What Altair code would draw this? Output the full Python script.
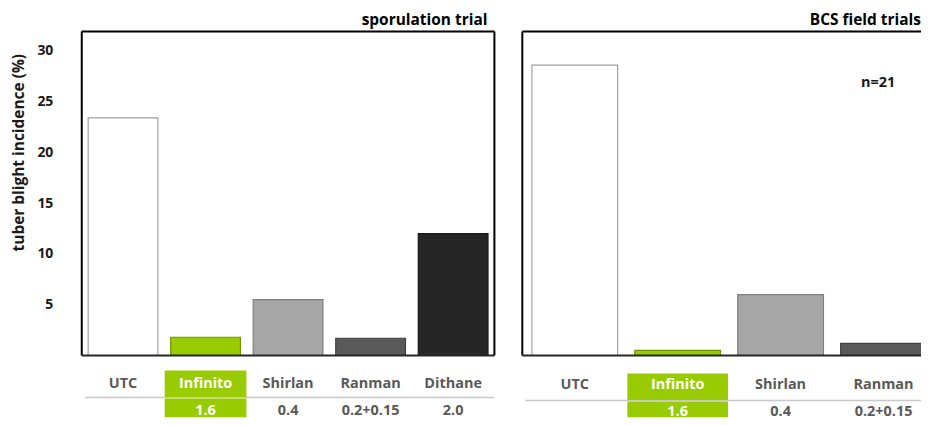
import altair as alt
import pandas as pd

FONT = "Open Sans"

# ---- data ----
cats_a = ["UTC", "Infinito", "Shirlan", "Ranman", "Dithane"]
vals_a = [23.4, 1.8, 5.5, 1.7, 12.0]
doses_a = ["", "1.6", "0.4", "0.2+0.15", "2.0"]

cats_b = ["UTC", "Infinito", "Shirlan", "Ranman"]
vals_b = [28.6, 0.5, 6.0, 1.2]
doses_b = ["", "1.6", "0.4", "0.2+0.15"]

y_ticks = [5, 10, 15, 20, 25, 30]
y_max = 31.9

fill_colors = ["#ffffff", "#99cc00", "#a6a6a6", "#595959", "#262626"]
stroke_colors = ["#a0a0a0", "#6f9400", "#7f7f7f", "#404040", "#1a1a1a"]
all_cats = ["UTC", "Infinito", "Shirlan", "Ranman", "Dithane"]

GREEN = "#99cc00"
TXT = "#595959"
H = 325
W1 = 414
W2 = 400
FS = 14.5


def panel(cats, vals, doses, width, x_scale, y_axis, rows, note=None):
    df = pd.DataFrame({"cat": cats, "val": vals, "dose": doses})
    base = alt.Chart(df)
    x = alt.X("cat:N", sort=cats, axis=None, scale=x_scale)
    y = alt.Y("val:Q", scale=alt.Scale(domain=[0, y_max], nice=False, zero=True), axis=y_axis)
    color = alt.Color("cat:N", scale=alt.Scale(domain=all_cats, range=fill_colors), legend=None)
    stroke = alt.Stroke("cat:N", scale=alt.Scale(domain=all_cats, range=stroke_colors), legend=None)

    lab_y, line_y, dose_y, box_top, box_bot, box_w = rows

    bars = base.mark_bar(strokeWidth=1.2, clip=True).encode(x=x, y=y, color=color, stroke=stroke)

    one = alt.Chart(pd.DataFrame({"d": [0]}))
    sep = one.mark_rule(color="#c8c8c8", strokeWidth=1.5).encode(
        x=alt.value(3), x2=alt.value(width), y=alt.value(H + line_y))

    inf = base.transform_filter(alt.datum.cat == "Infinito")
    box1 = inf.mark_bar(width=box_w, color=GREEN).encode(
        x=x, y=alt.value(H + box_top), y2=alt.value(H + line_y - 0.5))
    box2 = inf.mark_bar(width=box_w, color=GREEN).encode(
        x=x, y=alt.value(H + line_y + 1.0), y2=alt.value(H + box_bot))

    txt_color = alt.condition(alt.datum.cat == "Infinito", alt.value("white"), alt.value(TXT))
    labels = base.mark_text(font=FONT, fontSize=FS, fontWeight="bold", baseline="middle").encode(
        x=x, y=alt.value(H + lab_y), text="cat:N", color=txt_color)
    dose_txt = base.mark_text(font=FONT, fontSize=FS, fontWeight="bold", baseline="middle").encode(
        x=x, y=alt.value(H + dose_y), text="dose:N", color=txt_color)

    frame = [
        one.mark_rule(color="black", strokeWidth=2).encode(x=alt.value(0), x2=alt.value(width), y=alt.value(0)),
        one.mark_rule(color="black", strokeWidth=2).encode(x=alt.value(0), y=alt.value(0), y2=alt.value(H)),
        one.mark_rule(color="#262626", strokeWidth=2).encode(x=alt.value(0), x2=alt.value(width), y=alt.value(H)),
    ]
    layers = [bars, sep, box1, box2, labels, dose_txt] + frame
    if note is not None:
        layers.append(one.mark_text(font=FONT, fontSize=FS, fontWeight="bold", color="#1a1a1a").encode(
            x=alt.value(note[0]), y=alt.value(note[1]), text=alt.value(note[2])))
    return layers


y_axis_a = alt.Axis(
    values=y_ticks, ticks=False, tickSize=0, domain=False, grid=False,
    labelPadding=29, labelFont=FONT, labelFontSize=14, labelFontWeight="bold", labelColor="#1a1a1a",
    title="tuber blight incidence (%)", titleFont=FONT, titleFontSize=15.5, titleFontWeight="bold",
    titleColor="#1a1a1a", titlePadding=10, titleY=121,
)

layers_a = panel(
    cats_a, vals_a, doses_a, W1,
    alt.Scale(paddingInner=0.155, paddingOuter=0.0775), y_axis_a,
    (29, 42, 56, 15, 62, 82),
)
layers_a.append(
    alt.Chart(pd.DataFrame({"d": [0]})).mark_rule(color="black", strokeWidth=2).encode(
        x=alt.value(W1), y=alt.value(0), y2=alt.value(H))
)

layers_b = panel(
    cats_b, vals_b, doses_b, W2,
    alt.Scale(paddingInner=0.167, paddingOuter=0.0835, range=[1, 414]), None,
    (30, 45, 57, 18, 62, 101),
    note=(357, 52, "n=21"),
)

left = alt.layer(*layers_a).properties(
    width=W1, height=H,
    title=alt.TitleParams("sporulation trial", anchor="end", font=FONT, fontSize=15.5,
                          fontWeight="bold", color="black", dx=-8, offset=2),
)
right = alt.layer(*layers_b).properties(
    width=W2, height=H,
    title=alt.TitleParams("BCS field trials", anchor="end", font=FONT, fontSize=15.5,
                          fontWeight="bold", color="black", dx=-1, offset=2),
)

chart = alt.hconcat(left, right, spacing=24).properties(
    padding={"left": 3, "top": 4, "right": 0, "bottom": 0}
).configure_view(stroke="transparent")

chart.save("out.html", embed_options={"renderer": "svg", "actions": False})
